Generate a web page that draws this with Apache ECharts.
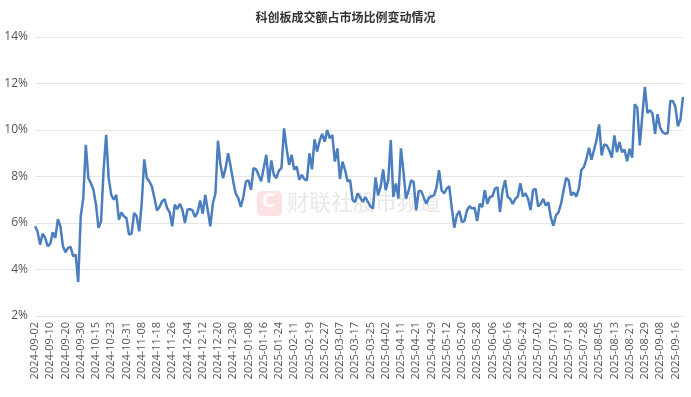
<!DOCTYPE html>
<html>
<head>
<meta charset="utf-8">
<script src="https://cdn.jsdelivr.net/npm/echarts@6/dist/echarts.min.js"></script>
<style>
  html, body { margin: 0; padding: 0; background: #fff; }
  #chart { width: 691px; height: 397px; }
</style>
</head>
<body>
<div id="chart"></div>
<script>
var titleText = '科创板成交额占市场比例变动情况';

// trading days, 2024-09-02 .. 2025-09-19
var dates = [
  '2024-09-02','2024-09-03','2024-09-04','2024-09-05','2024-09-06','2024-09-09','2024-09-10','2024-09-11','2024-09-12','2024-09-13',
  '2024-09-18','2024-09-19','2024-09-20','2024-09-23','2024-09-24','2024-09-25','2024-09-26','2024-09-27','2024-09-30',
  '2024-10-08','2024-10-09','2024-10-10','2024-10-11','2024-10-14','2024-10-15','2024-10-16','2024-10-17','2024-10-18',
  '2024-10-21','2024-10-22','2024-10-23','2024-10-24','2024-10-25','2024-10-28','2024-10-29','2024-10-30','2024-10-31',
  '2024-11-01','2024-11-04','2024-11-05','2024-11-06','2024-11-07','2024-11-08','2024-11-11','2024-11-12','2024-11-13','2024-11-14','2024-11-15',
  '2024-11-18','2024-11-19','2024-11-20','2024-11-21','2024-11-22','2024-11-25','2024-11-26','2024-11-27','2024-11-28','2024-11-29',
  '2024-12-02','2024-12-03','2024-12-04','2024-12-05','2024-12-06','2024-12-09','2024-12-10','2024-12-11','2024-12-12','2024-12-13',
  '2024-12-16','2024-12-17','2024-12-18','2024-12-19','2024-12-20','2024-12-23','2024-12-24','2024-12-25','2024-12-26','2024-12-27','2024-12-30','2024-12-31',
  '2025-01-02','2025-01-03','2025-01-06','2025-01-07','2025-01-08','2025-01-09','2025-01-10','2025-01-13','2025-01-14','2025-01-15','2025-01-16','2025-01-17',
  '2025-01-20','2025-01-21','2025-01-22','2025-01-23','2025-01-24','2025-01-27',
  '2025-02-05','2025-02-06','2025-02-07','2025-02-10','2025-02-11','2025-02-12','2025-02-13','2025-02-14',
  '2025-02-17','2025-02-18','2025-02-19','2025-02-20','2025-02-21','2025-02-24','2025-02-25','2025-02-26','2025-02-27','2025-02-28',
  '2025-03-03','2025-03-04','2025-03-05','2025-03-06','2025-03-07','2025-03-10','2025-03-11','2025-03-12','2025-03-13','2025-03-14',
  '2025-03-17','2025-03-18','2025-03-19','2025-03-20','2025-03-21','2025-03-24','2025-03-25','2025-03-26','2025-03-27','2025-03-28','2025-03-31',
  '2025-04-01','2025-04-02','2025-04-03','2025-04-07','2025-04-08','2025-04-09','2025-04-10','2025-04-11','2025-04-14','2025-04-15','2025-04-16','2025-04-17','2025-04-18',
  '2025-04-21','2025-04-22','2025-04-23','2025-04-24','2025-04-25','2025-04-28','2025-04-29','2025-04-30',
  '2025-05-06','2025-05-07','2025-05-08','2025-05-09','2025-05-12','2025-05-13','2025-05-14','2025-05-15','2025-05-16',
  '2025-05-19','2025-05-20','2025-05-21','2025-05-22','2025-05-23','2025-05-26','2025-05-27','2025-05-28','2025-05-29','2025-05-30',
  '2025-06-03','2025-06-04','2025-06-05','2025-06-06','2025-06-09','2025-06-10','2025-06-11','2025-06-12','2025-06-13',
  '2025-06-16','2025-06-17','2025-06-18','2025-06-19','2025-06-20','2025-06-23','2025-06-24','2025-06-25','2025-06-26','2025-06-27','2025-06-30',
  '2025-07-01','2025-07-02','2025-07-03','2025-07-04','2025-07-07','2025-07-08','2025-07-09','2025-07-10','2025-07-11',
  '2025-07-14','2025-07-15','2025-07-16','2025-07-17','2025-07-18','2025-07-21','2025-07-22','2025-07-23','2025-07-24','2025-07-25',
  '2025-07-28','2025-07-29','2025-07-30','2025-07-31','2025-08-01','2025-08-04','2025-08-05','2025-08-06','2025-08-07','2025-08-08',
  '2025-08-11','2025-08-12','2025-08-13','2025-08-14','2025-08-15','2025-08-18','2025-08-19','2025-08-20','2025-08-21','2025-08-22',
  '2025-08-25','2025-08-26','2025-08-27','2025-08-28','2025-08-29','2025-09-01','2025-09-02','2025-09-03','2025-09-04','2025-09-05',
  '2025-09-08','2025-09-09','2025-09-10','2025-09-11','2025-09-12','2025-09-15','2025-09-16','2025-09-17','2025-09-18','2025-09-19'
];

// 科创板成交额占比 (%)
var ratio = [
  5.86,5.64,5.07,5.54,5.36,5.0,5.11,5.6,5.36,6.17,
  5.86,5.0,4.74,4.93,4.97,4.57,4.64,3.46,6.29,7.07,
  9.36,7.93,7.71,7.43,6.79,5.79,6.07,8.29,9.79,7.93,
  7.21,7.0,7.21,6.14,6.46,6.29,6.21,5.5,5.54,6.43,
  6.29,5.64,6.86,8.74,7.93,7.79,7.57,7.07,6.54,6.69,
  6.93,7.03,6.64,6.46,5.86,6.79,6.6,6.83,6.57,6.0,
  6.57,6.6,6.54,6.26,6.46,6.97,6.4,7.21,6.54,5.86,
  6.86,7.26,9.54,8.5,7.93,8.36,9.0,8.43,7.79,7.26,
  7.07,6.69,7.14,7.79,7.83,7.43,8.36,8.31,8.07,7.79,
  8.36,8.93,7.74,8.69,8.07,7.93,8.26,8.36,10.07,9.21,
  8.5,8.93,8.29,8.43,7.86,8.07,7.89,7.83,9.0,8.31,
  9.6,9.07,9.54,9.83,9.5,10.0,9.64,9.79,8.64,9.21,
  7.89,8.64,8.29,7.79,7.84,6.98,6.91,7.27,7.09,6.91,
  7.12,6.91,6.72,6.62,7.96,7.19,7.55,8.3,7.41,7.84,
  9.57,7.12,7.7,7.05,9.21,8.2,7.05,7.38,7.84,7.77,
  6.55,7.38,7.38,7.09,6.83,7.09,7.15,7.19,7.53,8.27,
  7.41,7.27,7.48,7.58,6.66,5.8,6.33,6.52,6.04,6.09,
  6.55,6.72,6.62,6.66,6.09,6.83,6.69,7.41,6.83,7.12,
  7.15,7.48,7.53,6.47,7.41,7.84,7.12,7.04,6.82,7.04,
  7.14,7.71,7.14,7.28,7.04,6.56,7.42,7.47,6.71,6.82,
  7.04,6.75,6.89,6.24,5.88,6.32,6.46,6.82,7.4,7.94,
  7.83,7.18,7.32,7.14,7.47,8.29,8.4,8.76,9.24,8.72,
  9.15,9.58,10.24,8.91,9.38,9.34,9.12,8.81,9.77,9.05,
  9.48,9.05,9.15,8.66,9.19,8.81,11.11,10.96,9.34,10.63,
  11.86,10.73,10.85,10.71,9.84,10.68,10.1,9.91,9.84,9.87,
  11.25,11.25,11.0,10.16,10.45,11.42
];

var yMin = 2, yMax = 14, yStep = 2;

var chart = echarts.init(document.getElementById('chart'));
chart.setOption({
  backgroundColor: '#fff',
  textStyle: { fontFamily: '"Open Sans", "Noto Sans CJK SC", sans-serif' },
  title: {
    text: titleText,
    left: 'center',
    top: 6,
    textStyle: { fontSize: 12, fontWeight: 'bold', color: '#333', fontFamily: '"Noto Sans CJK SC", sans-serif' }
  },
  // 水印
  graphic: [
    {
      type: 'rect', left: 257, top: 191, z: -1,
      shape: { width: 25, height: 25, r: 5 },
      style: { fill: '#fbe1e1' }
    },
    {
      type: 'text', left: 262, top: 191, z: -1,
      style: { text: 'C', fill: '#fff', font: 'bold 20px "Open Sans", sans-serif' }
    },
    {
      type: 'text', left: 287, top: 191, z: -1,
      style: { text: '财联社股市频道', fill: '#e8e8e8', font: '22px "Noto Sans CJK SC", sans-serif' }
    }
  ],
  grid: { left: 35, right: 8, top: 37, bottom: 81 },
  xAxis: {
    type: 'category',
    data: dates,
    boundaryGap: false,
    axisLine: { show: false },
    axisTick: { show: false },
    axisLabel: { interval: 5, rotate: 90, fontSize: 11, color: '#555', margin: 6 }
  },
  yAxis: {
    type: 'value',
    min: yMin, max: yMax, interval: yStep,
    axisLine: { show: false },
    axisTick: { show: false },
    axisLabel: { formatter: '{value}%', fontSize: 12, color: '#555', margin: 7 },
    splitLine: { lineStyle: { color: '#e6e6e6', width: 1 } }
  },
  series: [{
    name: '科创板成交额占比',
    type: 'line',
    data: ratio,
    symbol: 'none',
    lineStyle: { color: '#4a7ebf', width: 2.5 },
    z: 3
  }]
});
</script>
</body>
</html>
